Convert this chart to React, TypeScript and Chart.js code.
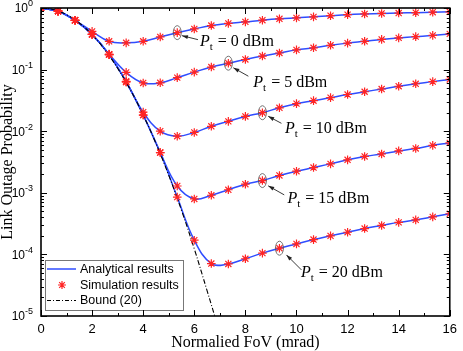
import React, { useEffect, useRef } from 'react';
import { Chart, registerables } from 'chart.js';

Chart.register(...registerables);

// ---------- data ----------
const FOV = [0, 0.667, 1.333, 2, 2.667, 3.333, 4, 4.667, 5.333, 6, 6.667, 7.333, 8, 8.667, 9.333, 10, 10.667, 11.333, 12, 12.667, 13.333, 14, 14.667, 15.333, 16];
const PT0 = [1, 0.887, 0.631, 0.417, 0.288, 0.272, 0.288, 0.339, 0.398, 0.457, 0.519, 0.562, 0.596, 0.634, 0.667, 0.692, 0.718, 0.75, 0.78, 0.8, 0.815, 0.828, 0.841, 0.855, 0.867];
const PT5 = [1, 0.887, 0.631, 0.375, 0.178, 0.09, 0.0607, 0.061, 0.074, 0.091, 0.11, 0.127, 0.146, 0.166, 0.186, 0.209, 0.226, 0.248, 0.269, 0.288, 0.309, 0.327, 0.343, 0.359, 0.38];
const PT10 = [1, 0.887, 0.631, 0.372, 0.175, 0.0646, 0.0204, 0.01, 0.0083, 0.00955, 0.012, 0.01445, 0.01738, 0.01995, 0.024, 0.028, 0.0313, 0.0351, 0.0394, 0.0437, 0.0484, 0.0537, 0.0589, 0.0638, 0.0692];
const PT15 = [1, 0.887, 0.631, 0.372, 0.175, 0.063, 0.0183, 0.0045, 0.00129, 0.000794, 0.000912, 0.00112, 0.00138, 0.00158, 0.00191, 0.00224, 0.00257, 0.00295, 0.00343, 0.00389, 0.00427, 0.00479, 0.00525, 0.00589, 0.00646];
const PT20 = [1, 0.887, 0.631, 0.372, 0.175, 0.063, 0.0183, 0.0045, 0.000851, 0.00017, 7.1e-5, 7.0e-5, 8.5e-5, 1.05e-4, 1.26e-4, 1.48e-4, 1.74e-4, 2.0e-4, 2.29e-4, 2.63e-4, 2.95e-4, 3.31e-4, 3.63e-4, 4.07e-4, 4.57e-4];
const BOUND_X = [0, 0.5, 1, 1.5, 2, 2.5, 3, 3.5, 4, 4.5, 5, 5.5, 6, 6.5, 6.8];
const BOUND = [1, 0.939, 0.779, 0.57, 0.368, 0.21, 0.105, 0.0468, 0.0183, 0.00633, 0.00193, 0.00052, 0.000123, 2.58e-5, 1.0e-5];

const SERIES = [PT0, PT5, PT10, PT15, PT20];
const PT_LABELS = ['0', '5', '10', '15', '20'];
const PT_MARK_INDEX = [8, 11, 13, 13, 14];
const LEGEND_LABELS = ['Analytical results', 'Simulation results', 'Bound (20)'];
const X_TITLE = 'Normalied FoV (mrad)';
const Y_TITLE = 'Link Outage Probability';
const Y_TICK_VALUES = [1, 0.1, 0.01, 0.001, 0.0001, 0.00001];
const Y_TICK_EXP = ['0', '-1', '-2', '-3', '-4', '-5'];

const BLUE = '#2f4dff';
const RED = '#ff2424';
const SANS = '"Liberation Sans", Arial, sans-serif';
const SERIF = '"Liberation Serif", "Times New Roman", serif';

// annotation placement (pixel offsets from the marked point)
const ANN = [
  { tx: 22.7, ty: 13.7, ax: 20.7, ay: 7, hx: 4.7, hy: 3 },
  { tx: 25, ty: 23.6, ax: 20, ay: 13, hx: 5, hy: 4.6 },
  { tx: 22.5, ty: 20, ax: 19, ay: 10.6, hx: 5.8, hy: 3.6 },
  { tx: 25, ty: 22.5, ax: 21.8, ay: 14.3, hx: 5.8, hy: 5.3 },
  { tx: 21.5, ty: 28.4, ax: 22, ay: 21.7, hx: 7, hy: 6.7 },
];

function drawStar(ctx: CanvasRenderingContext2D, cx: number, cy: number, r: number) {
  ctx.beginPath();
  for (let k = 0; k < 4; k++) {
    const ang = (k * Math.PI) / 4;
    ctx.moveTo(cx - r * Math.cos(ang), cy - r * Math.sin(ang));
    ctx.lineTo(cx + r * Math.cos(ang), cy + r * Math.sin(ang));
  }
  ctx.stroke();
}

const decorPlugin = {
  id: 'decor',
  afterDatasetsDraw(chart: any) {
    const { ctx, chartArea: a, scales } = chart;
    const xs = scales.x;
    const ys = scales.y;
    ctx.save();
    // annotations
    SERIES.forEach((s, i) => {
      const idx = PT_MARK_INDEX[i];
      const px = xs.getPixelForValue(FOV[idx]);
      const py = ys.getPixelForValue(s[idx]);
      const o = ANN[i];
      ctx.strokeStyle = '#555';
      ctx.lineWidth = 0.8;
      ctx.beginPath();
      ctx.ellipse(px, py, 4, 7, 0, 0, Math.PI * 2);
      ctx.stroke();
      // arrow
      const x1 = px + o.ax, y1 = py + o.ay, x2 = px + o.hx, y2 = py + o.hy;
      ctx.strokeStyle = '#222';
      ctx.lineWidth = 0.9;
      ctx.beginPath();
      ctx.moveTo(x1, y1);
      ctx.lineTo(x2, y2);
      ctx.stroke();
      const ang = Math.atan2(y2 - y1, x2 - x1);
      ctx.fillStyle = '#222';
      ctx.beginPath();
      ctx.moveTo(x2, y2);
      ctx.lineTo(x2 - 6 * Math.cos(ang) + 2 * Math.sin(ang), y2 - 6 * Math.sin(ang) - 2 * Math.cos(ang));
      ctx.lineTo(x2 - 6 * Math.cos(ang) - 2 * Math.sin(ang), y2 - 6 * Math.sin(ang) + 2 * Math.cos(ang));
      ctx.closePath();
      ctx.fill();
      // text
      const tx = px + o.tx, ty = py + o.ty;
      ctx.fillStyle = '#000';
      ctx.textAlign = 'left';
      ctx.textBaseline = 'alphabetic';
      ctx.font = 'italic 16px ' + SERIF;
      ctx.fillText('P', tx, ty);
      let w = ctx.measureText('P').width;
      ctx.font = '11px ' + SERIF;
      ctx.fillText('t', tx + w, ty + 4);
      w += ctx.measureText('t').width + 1;
      ctx.font = '16px ' + SERIF;
      ctx.fillText(' = ' + PT_LABELS[i] + ' dBm', tx + w, ty);
    });

    // legend
    const bx = a.left + 4, by = a.bottom - 56, bw = 138, bh = 50;
    ctx.fillStyle = '#fff';
    ctx.fillRect(bx, by, bw, bh);
    ctx.strokeStyle = '#777';
    ctx.lineWidth = 1;
    ctx.strokeRect(bx + 0.5, by + 0.5, bw, bh);
    const rows = [by + 9, by + 25, by + 40.5];
    ctx.strokeStyle = BLUE;
    ctx.lineWidth = 1.5;
    ctx.beginPath();
    ctx.moveTo(bx + 2, rows[0]);
    ctx.lineTo(bx + 31, rows[0]);
    ctx.stroke();
    ctx.strokeStyle = RED;
    ctx.lineWidth = 1.2;
    drawStar(ctx, bx + 17, rows[1], 4);
    ctx.strokeStyle = '#000';
    ctx.lineWidth = 1;
    ctx.setLineDash([4, 2, 1, 2]);
    ctx.beginPath();
    ctx.moveTo(bx + 2, rows[2]);
    ctx.lineTo(bx + 31, rows[2]);
    ctx.stroke();
    ctx.setLineDash([]);
    ctx.fillStyle = '#000';
    ctx.font = '12.5px ' + SANS;
    ctx.textBaseline = 'middle';
    LEGEND_LABELS.forEach((t, i) => ctx.fillText(t, bx + 35, rows[i] + 0.5));
    ctx.restore();
  },
  afterDraw(chart: any) {
    const { ctx, chartArea: a, scales } = chart;
    const xs = scales.x;
    const ys = scales.y;
    ctx.save();
    ctx.strokeStyle = '#000';
    ctx.lineWidth = 1;
    // x ticks (bottom and top, inward)
    for (let v = 0; v <= 16; v += 1) {
      const px = Math.round(xs.getPixelForValue(v)) + 0.5;
      const len = v % 2 === 0 ? 6 : 3;
      ctx.beginPath();
      ctx.moveTo(px, a.bottom);
      ctx.lineTo(px, a.bottom - len);
      ctx.moveTo(px, a.top);
      ctx.lineTo(px, a.top + len);
      ctx.stroke();
    }
    // y ticks (left and right, inward)
    for (let e = 0; e >= -5; e--) {
      for (let m = 1; m <= 9; m++) {
        const v = m * Math.pow(10, e - 1);
        if (v < 1e-5 - 1e-12) continue;
        const py = Math.round(ys.getPixelForValue(v)) + 0.5;
        const len = m === 1 ? 6 : 3;
        ctx.beginPath();
        ctx.moveTo(a.left, py);
        ctx.lineTo(a.left + len, py);
        ctx.moveTo(a.right, py);
        ctx.lineTo(a.right - len, py);
        ctx.stroke();
      }
    }
    const py0 = Math.round(ys.getPixelForValue(1)) + 0.5;
    ctx.beginPath();
    ctx.moveTo(a.left, py0); ctx.lineTo(a.left + 6, py0);
    ctx.moveTo(a.right, py0); ctx.lineTo(a.right - 6, py0);
    ctx.stroke();
    // frame
    ctx.lineWidth = 1.6;
    ctx.strokeRect(a.left, a.top, a.right - a.left, a.bottom - a.top);
    // y tick labels 10^n
    ctx.fillStyle = '#000';
    ctx.textAlign = 'left';
    ctx.textBaseline = 'middle';
    Y_TICK_VALUES.forEach((v, i) => {
      const py = ys.getPixelForValue(v);
      const exp = Y_TICK_EXP[i];
      ctx.font = '9px ' + SANS;
      const ew = ctx.measureText(exp).width;
      ctx.font = '12px ' + SANS;
      const bw = ctx.measureText('10').width;
      const right = a.left - 8;
      ctx.fillText('10', right - ew - bw, py + 1);
      ctx.font = '9px ' + SANS;
      ctx.fillText(exp, right - ew, py - 4);
    });
    ctx.restore();
  },
};

export default function App() {
  const ref = useRef<HTMLCanvasElement | null>(null);
  useEffect(() => {
    document.body.style.margin = '0';
    const canvas = ref.current;
    if (!canvas) return;
    const lineSets = SERIES.map((s, i) => ({
      label: 'Analytical Pt=' + PT_LABELS[i],
      data: FOV.map((x, j) => ({ x, y: s[j] })),
      borderColor: BLUE,
      borderWidth: 1.5,
      pointRadius: 0,
      tension: 0.4,
      fill: false,
      order: 3,
    }));
    const markerSets = SERIES.map((s, i) => ({
      label: 'Simulation Pt=' + PT_LABELS[i],
      data: FOV.map((x, j) => ({ x, y: s[j] })),
      showLine: false,
      pointStyle: 'star',
      pointRadius: 4.3,
      pointBorderColor: RED,
      pointBackgroundColor: RED,
      pointBorderWidth: 1.2,
      borderColor: RED,
      order: 1,
    }));
    const boundSet = {
      label: 'Bound (20)',
      data: BOUND_X.map((x, j) => ({ x, y: BOUND[j] })),
      borderColor: '#000',
      borderWidth: 1.1,
      borderDash: [5, 2, 1, 2],
      pointRadius: 0,
      tension: 0.4,
      fill: false,
      clip: 0,
      order: 2,
    };
    const chart = new Chart(canvas, {
      type: 'line',
      data: { datasets: [...lineSets, boundSet, ...markerSets] as any },
      options: {
        responsive: false,
        animation: false,
        layout: { padding: { top: 8, right: 10, left: 0, bottom: 0 } },
        plugins: { legend: { display: false }, tooltip: { enabled: false } },
        scales: {
          x: {
            type: 'linear',
            min: 0,
            max: 16,
            ticks: { stepSize: 2, color: '#000', font: { family: SANS, size: 13 }, padding: 6, maxRotation: 0 },
            grid: { display: false, drawTicks: false, tickLength: 0 },
            border: { display: false },
            title: { display: true, text: X_TITLE, color: '#000', font: { family: SERIF, size: 16, lineHeight: 1 }, padding: 0 },
            afterFit: (s: any) => { s.height = 35; },
          },
          y: {
            type: 'logarithmic',
            min: 1e-5,
            max: 1,
            ticks: { display: false },
            grid: { display: false, drawTicks: false, tickLength: 0 },
            border: { display: false },
            title: { display: true, text: Y_TITLE, color: '#000', font: { family: SERIF, size: 16, lineHeight: 1 }, padding: 0 },
            afterFit: (s: any) => { s.width = 41; },
          },
        },
      } as any,
      plugins: [decorPlugin as any],
    });
    return () => chart.destroy();
  }, []);
  return <canvas ref={ref} width={463} height={351} style={{ display: 'block' }} />;
}
